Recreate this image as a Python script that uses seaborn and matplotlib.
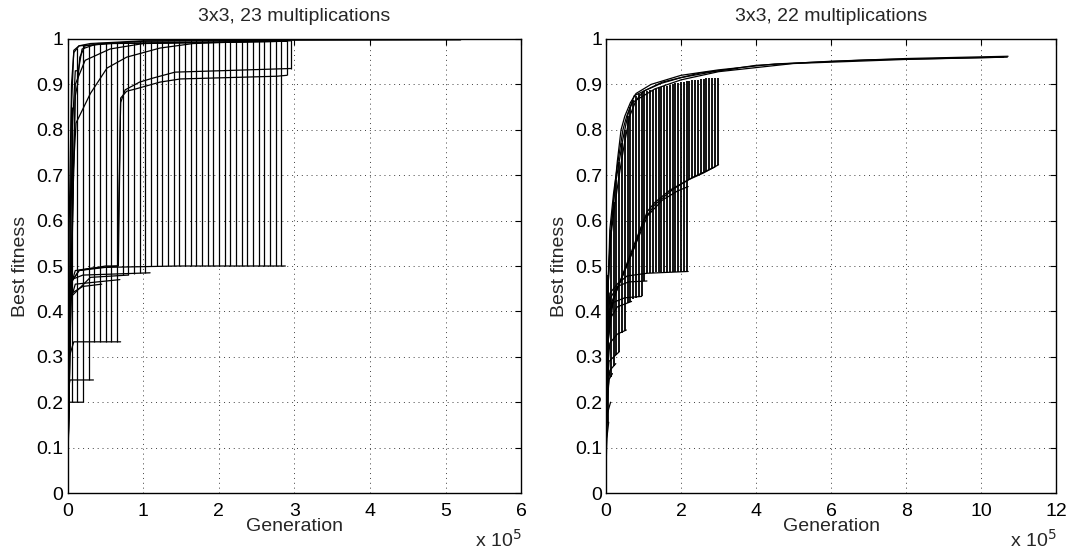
import numpy as np
import pandas as pd
import seaborn as sns
import matplotlib
matplotlib.use("Agg")
import matplotlib.pyplot as plt

# generations are in units of 1e5 (axis shows "x 10^5")
# ---------------- left panel: 3x3, 23 multiplications ----------------
left_runs = {
    "L1": ([0, 0.02, 0.05, 0.08, 0.15, 0.3, 1.0, 2.0, 5.2],
           [0.05, 0.6, 0.9, 0.97, 0.985, 0.99, 0.996, 0.997, 0.998]),
    "L2": ([0, 0.05, 0.1, 0.13, 0.16, 0.23, 0.5, 1.0, 2.95],
           [0.05, 0.5, 0.875, 0.9, 0.96, 0.985, 0.99, 0.995, 0.997]),
    "L3": ([0, 0.07, 0.11, 0.3, 0.52, 0.78, 1.22, 1.66, 2.5, 2.95],
           [0.05, 0.7, 0.815, 0.88, 0.936, 0.96, 0.98, 0.99, 0.995, 0.996]),
    "L4": ([0, 0.06, 0.1, 0.14, 0.19, 0.4, 2.9],
           [0.05, 0.8, 0.93, 0.93, 0.978, 0.99, 0.995]),
    "L5": ([0, 0.05, 0.08, 0.15, 0.6, 2.9],
           [0.05, 0.85, 0.975, 0.985, 0.99, 0.995]),
    "L6": ([0, 0.1, 0.23, 0.56, 1.0, 2.9],
           [0.05, 0.9, 0.953, 0.978, 0.99, 0.995]),
    "L7": ([0, 0.01, 0.03, 0.1, 0.3, 0.66, 0.7, 0.76, 0.85, 0.95, 1.13, 1.42, 2.0, 2.95],
           [0.05, 0.3, 0.45, 0.49, 0.495, 0.5, 0.86, 0.888, 0.896, 0.905, 0.914, 0.927, 0.93, 0.935]),
    "L8": ([0, 0.01, 0.03, 0.15, 0.5, 0.67, 0.7, 0.78, 0.9, 1.22, 1.49, 2.77, 2.9],
           [0.05, 0.3, 0.46, 0.49, 0.5, 0.5, 0.87, 0.885, 0.89, 0.905, 0.912, 0.918, 0.92]),
    "L9": ([0, 0.01, 0.03, 0.15, 0.5, 1.45, 2.88],
           [0.05, 0.35, 0.46, 0.49, 0.497, 0.5, 0.5]),
    "L10": ([0, 0.02, 0.05, 0.2, 1.09], [0.05, 0.4, 0.47, 0.48, 0.485]),
    "L11": ([0, 0.03, 0.1, 0.69], [0.05, 0.42, 0.46, 0.47]),
    "L12": ([0, 0.02, 0.08, 0.7], [0.05, 0.3, 0.333, 0.333]),
    "L13": ([0, 0.02, 0.03, 0.34], [0.05, 0.24, 0.249, 0.249]),
    "L14": ([0, 0.02, 0.2], [0.05, 0.2, 0.2]),
    "L15": ([0, 0.02, 0.05, 0.2, 0.45], [0.05, 0.38, 0.44, 0.455, 0.46]),
    "L16": ([0, 0.03, 0.3, 0.8], [0.05, 0.43, 0.475, 0.48]),
}
# sample points shared by all runs -> connectors drawn between the runs
left_samples = [0.05, 0.125, 0.2, 0.275, 0.35, 0.425, 0.5, 0.575, 0.65, 0.725,
                0.8, 0.875, 0.95, 1.025, 1.1, 1.175, 1.25, 1.325, 1.4, 1.475,
                1.55, 1.625, 1.7, 1.775, 1.85, 1.925, 2.0, 2.075, 2.15, 2.225,
                2.3, 2.375, 2.45, 2.525, 2.6, 2.675, 2.75, 2.825, 2.9, 2.95]
left_low = [0.2, 0.2, 0.2, 0.249, 0.333, 0.333, 0.333, 0.333, 0.333, 0.48,
            0.48, 0.483, 0.484, 0.485, 0.499, 0.5, 0.5, 0.5, 0.5, 0.5,
            0.5, 0.5, 0.5, 0.5, 0.5, 0.5, 0.5, 0.5, 0.5, 0.5,
            0.5, 0.5, 0.5, 0.5, 0.5, 0.5, 0.5, 0.5, 0.92, 0.935]
left_high = [0.85, 0.98, 0.986, 0.99, 0.99, 0.99, 0.991, 0.992, 0.993, 0.993,
             0.994, 0.994, 0.995, 0.996, 0.996, 0.996, 0.996, 0.996, 0.996, 0.996,
             0.996, 0.997, 0.997, 0.997, 0.997, 0.997, 0.997, 0.997, 0.997, 0.997,
             0.997, 0.997, 0.997, 0.997, 0.997, 0.997, 0.997, 0.997, 0.997, 0.997]

# ---------------- right panel: 3x3, 22 multiplications ----------------
right_runs = {
    "R1": ([0, 0.03, 0.06, 0.12, 0.21, 0.35, 0.49, 0.63, 0.8, 1.0, 1.46, 2.0, 3.0, 4.0, 6.0, 8.0, 10.72],
           [0.05, 0.35, 0.48, 0.56, 0.62, 0.7, 0.77, 0.83, 0.865, 0.885, 0.902, 0.915, 0.93, 0.942, 0.951, 0.957, 0.962]),
    "R2": ([0, 0.04, 0.1, 0.2, 0.3, 0.45, 0.55, 0.7, 1.0, 1.3, 2.0, 3.0, 5.0, 8.0, 10.6],
           [0.05, 0.4, 0.58, 0.66, 0.72, 0.8, 0.83, 0.86, 0.875, 0.89, 0.91, 0.928, 0.946, 0.955, 0.96]),
    "R3": ([0, 0.05, 0.15, 0.3, 0.4, 0.5, 0.65, 0.8, 1.2, 2.0, 3.0, 4.5, 7.0, 10.7],
           [0.05, 0.45, 0.6, 0.73, 0.8, 0.83, 0.86, 0.88, 0.9, 0.92, 0.932, 0.945, 0.954, 0.96]),
    "R4": ([0, 0.03, 0.1, 0.25, 0.45, 0.6, 0.75, 1.0, 1.5, 2.5, 3.0, 3.5],
           [0.05, 0.4, 0.55, 0.68, 0.78, 0.84, 0.875, 0.885, 0.905, 0.925, 0.93, 0.935]),
    "R5": ([0, 0.03, 0.1, 0.3, 0.53, 0.81, 1.1, 1.3, 1.7, 2.2, 2.6, 3.0],
           [0.05, 0.3, 0.4, 0.45, 0.5, 0.56, 0.62, 0.64, 0.667, 0.69, 0.705, 0.723]),
    "R6": ([0, 0.04, 0.15, 0.4, 0.55, 0.85, 1.1, 1.5, 1.9, 2.19],
           [0.05, 0.32, 0.42, 0.47, 0.5, 0.56, 0.61, 0.645, 0.665, 0.675]),
    "R7": ([0, 0.05, 0.2, 0.5, 0.75, 1.0, 1.3, 1.8, 2.3, 2.9],
           [0.05, 0.33, 0.43, 0.49, 0.54, 0.6, 0.635, 0.67, 0.695, 0.718]),
    "R8": ([0, 0.03, 0.1, 0.32, 0.56, 1.09, 2.19],
           [0.05, 0.3, 0.44, 0.462, 0.478, 0.484, 0.488]),
    "R9": ([0, 0.04, 0.12, 0.3, 0.6, 1.09], [0.05, 0.32, 0.43, 0.455, 0.465, 0.467]),
    "R10": ([0, 0.02, 0.06, 0.2, 0.5, 0.95], [0.05, 0.3, 0.4, 0.42, 0.43, 0.433]),
    "R11": ([0, 0.02, 0.08, 0.3, 0.68], [0.05, 0.28, 0.38, 0.41, 0.422]),
    "R12": ([0, 0.02, 0.1, 0.3, 0.54], [0.05, 0.25, 0.33, 0.35, 0.359]),
    "R13": ([0, 0.02, 0.08, 0.35], [0.05, 0.22, 0.29, 0.311]),
    "R14": ([0, 0.02, 0.1, 0.26], [0.05, 0.2, 0.27, 0.285]),
    "R15": ([0, 0.015, 0.08, 0.17], [0.05, 0.18, 0.25, 0.263]),
    "R16": ([0, 0.02, 0.12], [0.05, 0.17, 0.2]),
    "R17": ([0, 0.02, 0.07], [0.05, 0.12, 0.156]),
}
right_samples = [0.05, 0.125, 0.2, 0.275, 0.35, 0.425, 0.5, 0.575, 0.65, 0.725,
                 0.8, 0.875, 0.95, 1.025, 1.1, 1.175, 1.25, 1.325, 1.4, 1.475,
                 1.55, 1.625, 1.7, 1.775, 1.85, 1.925, 2.0, 2.075, 2.15, 2.225,
                 2.3, 2.375, 2.45, 2.525, 2.6, 2.675, 2.75, 2.825, 2.9, 2.975]
right_low = [0.155, 0.256, 0.279, 0.305, 0.311, 0.352, 0.357, 0.418, 0.421, 0.428,
             0.43, 0.432, 0.433, 0.466, 0.484, 0.485, 0.485, 0.486, 0.486, 0.486,
             0.487, 0.487, 0.487, 0.487, 0.487, 0.487, 0.487, 0.488, 0.488, 0.69,
             0.694, 0.697, 0.7, 0.703, 0.705, 0.708, 0.711, 0.714, 0.718, 0.722]
right_high = [0.48, 0.58, 0.64, 0.69, 0.73, 0.77, 0.8, 0.83, 0.85, 0.865,
              0.875, 0.878, 0.882, 0.885, 0.886, 0.887, 0.888, 0.89, 0.892, 0.894,
              0.896, 0.897, 0.899, 0.9, 0.902, 0.903, 0.905, 0.906, 0.907, 0.908,
              0.909, 0.91, 0.91, 0.911, 0.912, 0.913, 0.913, 0.914, 0.915, 0.915]


def runs_frame(runs):
    rows = []
    for name, (g, f) in runs.items():
        for gi, fi in zip(g, f):
            rows.append((name, gi, fi))
    return pd.DataFrame(rows, columns=["run", "gen", "fitness"])


sns.set_style("white")
plt.rcParams["font.family"] = ["Liberation Sans", "DejaVu Sans"]
plt.rcParams["font.size"] = 14

fig = plt.figure(figsize=(10.7, 5.5), dpi=100)
ax1 = fig.add_axes([0.0633, 0.1036, 0.4237, 0.8255])
ax2 = fig.add_axes([0.5664, 0.1036, 0.4206, 0.8255])

panels = [
    (ax1, left_runs, left_samples, left_low, left_high, 6, [0, 1, 2, 3, 4, 5, 6], "3x3, 23 multiplications", 0.9),
    (ax2, right_runs, right_samples, right_low, right_high, 12, [0, 2, 4, 6, 8, 10, 12], "3x3, 22 multiplications", 1.3),
]

for ax, runs, samples, lo, hi, xmax, xt, title, vlw in panels:
    df = runs_frame(runs)
    ax.vlines(samples, lo, hi, color="black", lw=vlw, zorder=2)
    sns.lineplot(data=df, x="gen", y="fitness", units="run", estimator=None,
                 sort=False, color="black", lw=0.9, legend=False, ax=ax, zorder=3)
    ax.set_xlim(0, xmax)
    ax.set_ylim(0, 1)
    ax.set_xticks(xt)
    ax.set_xticklabels([str(v) for v in xt])
    ax.set_yticks(np.round(np.arange(0, 1.01, 0.1), 1))
    ax.set_yticklabels(["0", "0.1", "0.2", "0.3", "0.4", "0.5", "0.6", "0.7", "0.8", "0.9", "1"])
    ax.grid(True, color="0.25", linestyle=(0, (1, 4)), lw=0.7)
    ax.tick_params(direction="in", length=4, width=0.8, top=True, right=True,
                   labelsize=14, colors="black")
    ax.tick_params(axis="x", pad=7)
    ax.tick_params(axis="y", pad=3)
    for s in ax.spines.values():
        s.set_color("black")
        s.set_linewidth(1.0)
    ax.set_xlabel("Generation", fontsize=14, labelpad=-1)
    ax.set_ylabel("Best fitness", fontsize=14, labelpad=5)
    ax.set_title(title, fontsize=14, pad=13)
    ax.text(1.0, -0.119, r"x 10$^5$", transform=ax.transAxes, ha="right",
            va="baseline", fontsize=14)

fig.savefig("out.png", dpi=100)
